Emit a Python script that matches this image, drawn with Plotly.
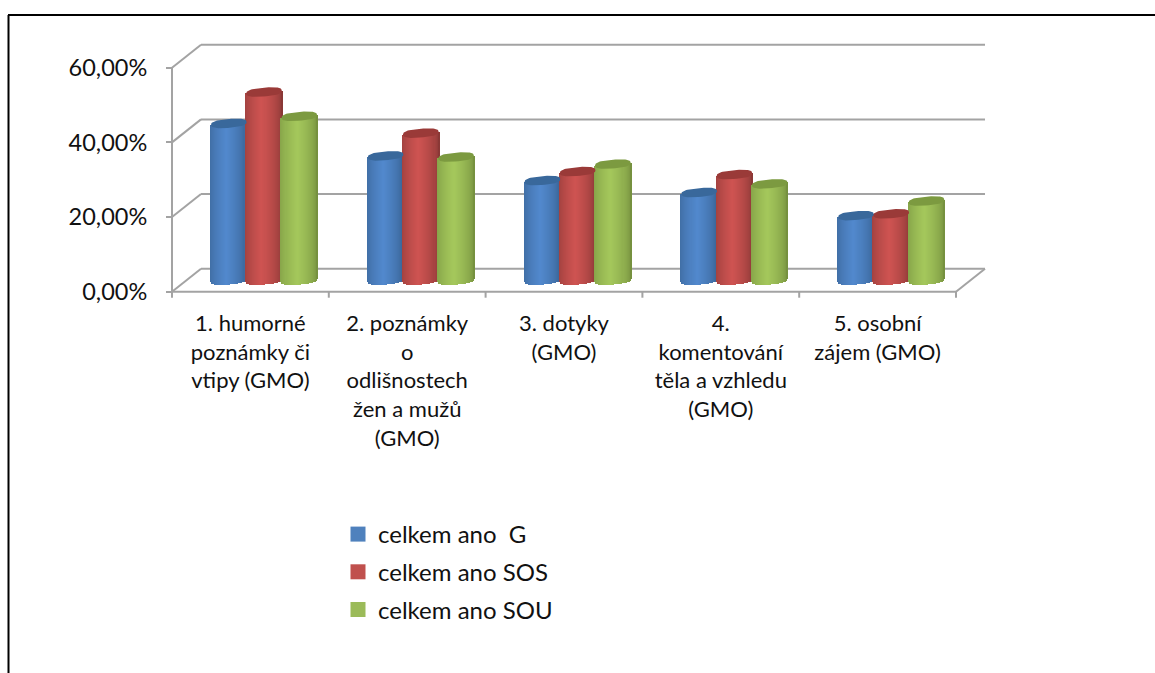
import numpy as np
import plotly.graph_objects as go

categories = [
    "1. humorné<br>poznámky či<br>vtipy (GMO)",
    "2. poznámky<br>o<br>odlišnostech<br>žen a mužů<br>(GMO)",
    "3. dotyky<br>(GMO)",
    "4.<br>komentování<br>těla a vzhledu<br>(GMO)",
    "5. osobní<br>zájem (GMO)",
]
series_names = ["celkem ano  G", "celkem ano SOS", "celkem ano SOU"]
celkem_g = [42.0, 33.3, 26.7, 23.5, 17.3]
celkem_sos = [50.4, 39.4, 29.1, 28.3, 17.8]
celkem_sou = [43.9, 33.0, 31.1, 25.8, 21.2]
y_ticks = [0, 20, 40, 60]
y_tick_labels = ["0,00%", "20,00%", "40,00%", "60,00%"]

# base colour, light centre, dark edge, top cap
palette = [
    ("#4F81BD", "#5289CE", "#37608F", "#39689B"),
    ("#C0504D", "#CF5452", "#8A3836", "#9A3A38"),
    ("#9BBB59", "#A5C85C", "#76913F", "#7C9A40"),
]

W, H = 1155, 673
X0_PX, CAT_PX = 172, 156.8
Y0_PX, PCT_PX = 291.7, 3.733

# oblique depth of the fake 3D box, in axis units
DEPTH_X = 29 / CAT_PX
DEPTH_Y = 23 / PCT_PX
BAR_W = 35.6 / CAT_PX
ELL_B = 4.4 / PCT_PX
ELL_TILT = 1.4 / PCT_PX
ELL_POW = 2.6
N_STRIPS = 36
GRID = "#A3A3A3"


def hex_rgb(c):
    return np.array([int(c[i:i + 2], 16) for i in (1, 3, 5)], dtype=float)


def shade(light, dark, u):
    # brightest a bit left of the middle, like the Office cylinder
    t = np.clip(1 - abs(u + 0.1) / 1.1, 0, 1) ** 0.55
    rgb = hex_rgb(dark) + (hex_rgb(light) - hex_rgb(dark)) * t
    return "rgb(%d,%d,%d)" % tuple(rgb)


fig = go.Figure()

for s, values in enumerate([celkem_g, celkem_sos, celkem_sou]):
    base_c, light, dark, cap = palette[s]
    xs, heights, bases, colors = [], [], [], []
    cap_x, cap_y = [], []
    for c, v in enumerate(values):
        cx = c + 0.5 + (s - 1) * BAR_W * 0.99 + DEPTH_X * 0.47
        cy = DEPTH_Y / 2
        for u in np.linspace(-1, 1, N_STRIPS):
            rim = ELL_B * max(1 - abs(u) ** ELL_POW, 0) ** (1 / ELL_POW)
            xs.append(cx + u * BAR_W / 2)
            bases.append(cy + ELL_TILT * u - rim)
            heights.append(v + rim)
            colors.append(shade(light, dark, u))
        t = np.linspace(0, 2 * np.pi, 64)
        cu = np.sign(np.cos(t)) * np.abs(np.cos(t)) ** (2 / ELL_POW)
        su = np.sign(np.sin(t)) * np.abs(np.sin(t)) ** (2 / ELL_POW)
        cap_x += list(cx + cu * BAR_W / 2) + [None]
        cap_y += list(cy + v + ELL_TILT * cu + ELL_B * su) + [None]
    fig.add_trace(go.Bar(
        x=xs, y=heights, base=bases, width=BAR_W / N_STRIPS * 1.15,
        marker=dict(color=colors, line=dict(width=0)),
        showlegend=False, hoverinfo="skip"
    ))
    fig.add_trace(go.Scatter(
        x=cap_x, y=cap_y, mode="lines", fill="toself", fillcolor=cap,
        line=dict(width=0, color=cap), showlegend=False, hoverinfo="skip"
    ))
    # legend entry only
    fig.add_trace(go.Scatter(
        x=[None], y=[None], mode="markers", name=series_names[s], legendgroup=str(s),
        marker=dict(symbol="square", size=15, color=base_c)
    ))

# -----------------------
# Box walls and floor
# -----------------------
n_cat = len(categories)
grid_lines = []
for y in y_ticks:
    grid_lines.append((0, y, DEPTH_X, y + DEPTH_Y))
    grid_lines.append((DEPTH_X, y + DEPTH_Y, n_cat + DEPTH_X, y + DEPTH_Y))
grid_lines.append((0, 0, 0, y_ticks[-1]))
grid_lines.append((0, 0, n_cat, 0))
grid_lines.append((n_cat, 0, n_cat + DEPTH_X, DEPTH_Y))
for c in range(n_cat + 1):
    grid_lines.append((c, 0, c, -6 / PCT_PX))

shapes = [
    dict(type="line", xref="x", yref="y", x0=a, y0=b, x1=d, y1=e, layer="below",
         line=dict(color=GRID, width=2))
    for a, b, d, e in grid_lines
]
# black page frame, open on the right and the bottom
shapes.append(dict(type="line", xref="paper", yref="paper", x0=8 / W, x1=1, y0=1 - 15 / H, y1=1 - 15 / H,
                   line=dict(color="#000000", width=2)))
shapes.append(dict(type="line", xref="paper", yref="paper", x0=8.5 / W, x1=8.5 / W, y0=0, y1=1 - 15 / H,
                   line=dict(color="#000000", width=2)))

tick_font = dict(family="Lato", size=23.5, color="#111111")
cat_font = dict(family="Lato", size=22, color="#111111")
legend_font = dict(family="Lato", size=24, color="#111111")

fig.update_layout(
    width=W, height=H,
    margin=dict(l=0, r=0, t=0, b=0),
    paper_bgcolor="white", plot_bgcolor="white",
    barmode="overlay", bargap=0,
    shapes=shapes,
    showlegend=True,
    legend=dict(
        x=338 / W, y=1 - 512 / H, xanchor="left", yanchor="top",
        font=legend_font, itemwidth=30, tracegroupgap=3.5,
        traceorder="grouped", bgcolor="rgba(0,0,0,0)"
    ),
    xaxis=dict(
        range=[-X0_PX / CAT_PX, (W - X0_PX) / CAT_PX],
        tickvals=[c + 0.5 for c in range(n_cat)], ticktext=categories,
        tickfont=cat_font, tickangle=0,
        ticks="outside", ticklen=12, tickcolor="rgba(0,0,0,0)",
        anchor="free", position=1 - Y0_PX / H,
        showgrid=False, zeroline=False, showline=False, fixedrange=True
    ),
    yaxis=dict(
        range=[(Y0_PX - H) / PCT_PX, Y0_PX / PCT_PX],
        tickvals=y_ticks, ticktext=y_tick_labels,
        tickfont=tick_font,
        ticks="outside", ticklen=6, tickwidth=2, tickcolor=GRID,
        ticklabelstandoff=14,
        anchor="free", position=X0_PX / W,
        showgrid=False, zeroline=False, showline=False, fixedrange=True
    ),
)

# the page's default body margin would push the chart 8px off
fig.write_html("out.html", config=dict(displayModeBar=False),
               post_script="document.body.style.margin='0';")
